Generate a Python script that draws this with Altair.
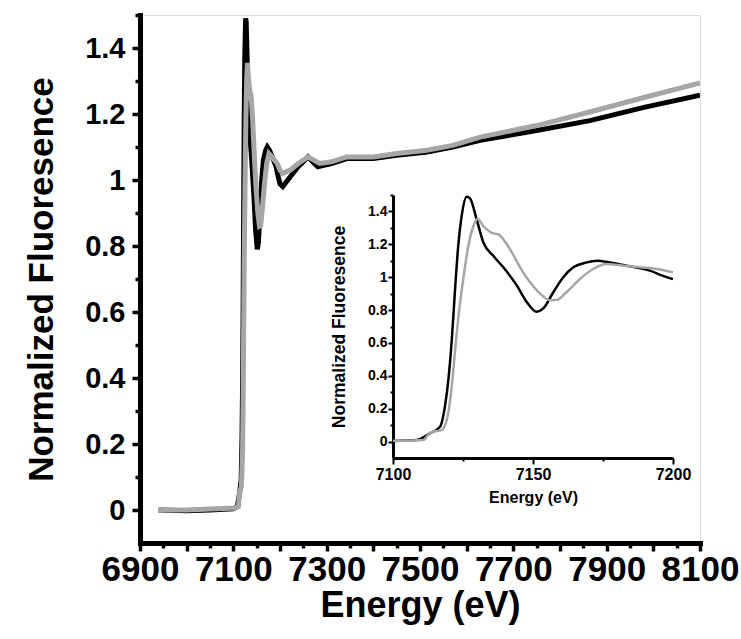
import altair as alt
import pandas as pd

FONT = "Liberation Sans"

# ---- spectra (energy in eV, normalized fluorescence) ----
black_energy = [6940, 7000, 7050, 7090, 7100, 7108.5, 7113.2, 7116.8, 7118.6, 7119.8,
                7121, 7122.1, 7123.3, 7124.5, 7126.3, 7127.5, 7129.9, 7132.3, 7135.8,
                7139.4, 7144.2, 7147.7, 7151.3, 7153.7, 7157.3, 7160.8, 7164.4, 7169.2,
                7172.7, 7177.5, 7184.6, 7191.7, 7196.5, 7200, 7206, 7222, 7239, 7260,
                7281, 7310, 7343, 7400, 7450, 7515, 7570, 7629, 7750, 7864, 7980, 8100]
black_value = [0.0, -0.002, 0.0, 0.003, 0.004, 0.01, 0.05, 0.09, 0.22, 0.38,
               0.62, 0.91, 1.19, 1.37, 1.49, 1.48, 1.35, 1.21, 1.13,
               1.06, 0.95, 0.85, 0.79, 0.81, 0.91, 1.00, 1.06, 1.09,
               1.10, 1.09, 1.066, 1.04, 1.008, 0.988, 0.98, 1.01, 1.04, 1.07,
               1.04, 1.05, 1.065, 1.065, 1.075, 1.085, 1.10, 1.12, 1.15, 1.18, 1.22, 1.257]

gray_energy = [6940, 7000, 7050, 7090, 7100, 7110.9, 7113, 7114.4, 7117.4, 7119.8,
               7121, 7122.1, 7123.3, 7125.1, 7126.9, 7128.7, 7130.2, 7132.3, 7135.2,
               7137.6, 7139.4, 7141.8, 7145.4, 7148.9, 7152.5, 7156.1, 7158.5, 7162,
               7166.8, 7171.5, 7176.3, 7181, 7188.2, 7194.2, 7200, 7206, 7222, 7239,
               7260, 7285, 7310, 7343, 7400, 7450, 7515, 7570, 7629, 7750, 7864, 7980, 8100]
gray_value = [0.0, 0.0, 0.003, 0.005, 0.005, 0.01, 0.05, 0.06, 0.07, 0.18,
              0.34, 0.54, 0.75, 0.99, 1.19, 1.31, 1.355, 1.31, 1.27,
              1.26, 1.23, 1.17, 1.06, 0.97, 0.90, 0.86, 0.862, 0.91,
              0.99, 1.05, 1.08, 1.073, 1.06, 1.05, 1.03, 1.02, 1.03, 1.05,
              1.07, 1.05, 1.055, 1.07, 1.07, 1.08, 1.09, 1.105, 1.13, 1.165, 1.206, 1.25, 1.294]

# ---- axis values (labelled / major ticks and minor ticks) ----
main_x_major = [6900, 7000, 7100, 7200, 7300, 7400, 7500, 7600, 7700, 7800, 7900, 8000, 8100]
main_x_minor = [6950, 7050, 7150, 7250, 7350, 7450, 7550, 7650, 7750, 7850, 7950, 8050]
main_y_major = [0, 0.2, 0.4, 0.6, 0.8, 1, 1.2, 1.4]
main_y_minor = [0.1, 0.3, 0.5, 0.7, 0.9, 1.1, 1.3, 1.5]

inset_x_major = [7100, 7150, 7200]
inset_x_minor = [7125, 7175]
inset_y_major = [0, 0.2, 0.4, 0.6, 0.8, 1, 1.2, 1.4]
inset_y_minor = [0.1, 0.3, 0.5, 0.7, 0.9, 1.1, 1.3, 1.5]

main_x_domain = [6900, 8100]
inset_x_domain = [7100, 7200]
y_domain = [-0.1, 1.5]

black = pd.DataFrame({"E": black_energy, "v": black_value})
gray = pd.DataFrame({"E": gray_energy, "v": gray_value})

xs_main = alt.Scale(domain=main_x_domain, nice=False, zero=False)
ys_main = alt.Scale(domain=y_domain, nice=False, zero=False)
xs_in = alt.Scale(domain=inset_x_domain, range=[253, 533], nice=False, zero=False)
ys_in = alt.Scale(domain=y_domain, range=[443, 180], nice=False, zero=False)

text_style = dict(grid=False, labelFlush=False, labelOverlap=False, labelBound=False,
                  labelFont=FONT, labelFontWeight="bold", labelColor="black",
                  titleFont=FONT, titleFontWeight="bold", titleColor="black",
                  domainColor="black", tickColor="black", tickCap="butt")

# labelled axes with their major ticks
main_x_axis = alt.Axis(orient="bottom", values=main_x_major, format="d",
                       labelExpr="datum.value % 200 == 0 ? '' : datum.label",
                       labelFontSize=35, labelPadding=1, tickSize=8, tickWidth=3.5,
                       domainWidth=5, domainCap="square",
                       title="Energy (eV)", titleFontSize=36, titleY=73,
                       titleBaseline="alphabetic", **text_style)
main_y_axis = alt.Axis(orient="left", values=main_y_major, format="~g",
                       labelFontSize=29, labelPadding=7, tickSize=8, tickWidth=3.5,
                       domainWidth=5, domainCap="square",
                       title="Normalized Fluoresence", titleFontSize=35, titleX=-88,
                       titleAngle=270, titleBaseline="alphabetic", **text_style)
inset_x_axis = alt.Axis(orient="bottom", offset=-85, values=inset_x_major, format="d",
                        labelFontSize=16, labelPadding=2, tickSize=6, tickWidth=2,
                        domainWidth=3, title="Energy (eV)", titleFontSize=16, titleY=44,
                        titleBaseline="alphabetic", **text_style)
inset_y_axis = alt.Axis(orient="left", offset=-253, values=inset_y_major, format="~g",
                        labelFontSize=14, labelPadding=1, tickSize=5, tickWidth=2,
                        domainWidth=3, title="Normalized Fluoresence", titleFontSize=17.5,
                        titleX=-49, titleAngle=270, titleBaseline="alphabetic", **text_style)

# unlabelled axes carrying the short minor ticks
minor_style = dict(grid=False, labels=False, domain=False, title=None,
                   tickColor="black", tickCap="butt")
main_x_minor_axis = alt.Axis(orient="bottom", values=main_x_minor, tickSize=5,
                             tickWidth=3.5, **minor_style)
main_y_minor_axis = alt.Axis(orient="left", values=main_y_minor, tickSize=5,
                             tickWidth=3.5, **minor_style)
inset_x_minor_axis = alt.Axis(orient="bottom", offset=-85, values=inset_x_minor,
                              tickSize=3, tickWidth=2, **minor_style)
inset_y_minor_axis = alt.Axis(orient="left", offset=-253, values=inset_y_minor,
                              tickSize=3, tickWidth=2, **minor_style)


def curve(df, color, width, xs, ys, xa, ya, interp, rng=None):
    c = alt.Chart(df)
    if rng is not None:
        c = c.transform_filter(alt.FieldRangePredicate(field="E", range=rng))
    return c.mark_line(color=color, strokeWidth=width, interpolate=interp, clip=True).encode(
        x=alt.X("E:Q", scale=xs, axis=xa),
        y=alt.Y("v:Q", scale=ys, axis=ya),
    )


layers = [
    curve(black, "#000000", 5, xs_main, ys_main, main_x_axis, main_y_axis, "linear"),
    curve(gray, "#a6a6a6", 5, xs_main, ys_main, main_x_minor_axis, main_y_minor_axis, "linear"),
    curve(black, "#000000", 2.5, xs_in, ys_in, inset_x_axis, inset_y_axis, "monotone",
          inset_x_domain),
    curve(gray, "#a6a6a6", 2.5, xs_in, ys_in, inset_x_minor_axis, inset_y_minor_axis,
          "monotone", inset_x_domain),
]

chart = alt.layer(*layers).resolve_scale(x="independent", y="independent").properties(
    width=560, height=528,
    padding={"left": 140, "top": 15, "right": 41, "bottom": 96},
    autosize=alt.AutoSizeParams(type="none"),
    background="white",
).configure_view(stroke=None).configure(font=FONT)

chart.save("out.html", embed_options={"renderer": "svg", "actions": False})
